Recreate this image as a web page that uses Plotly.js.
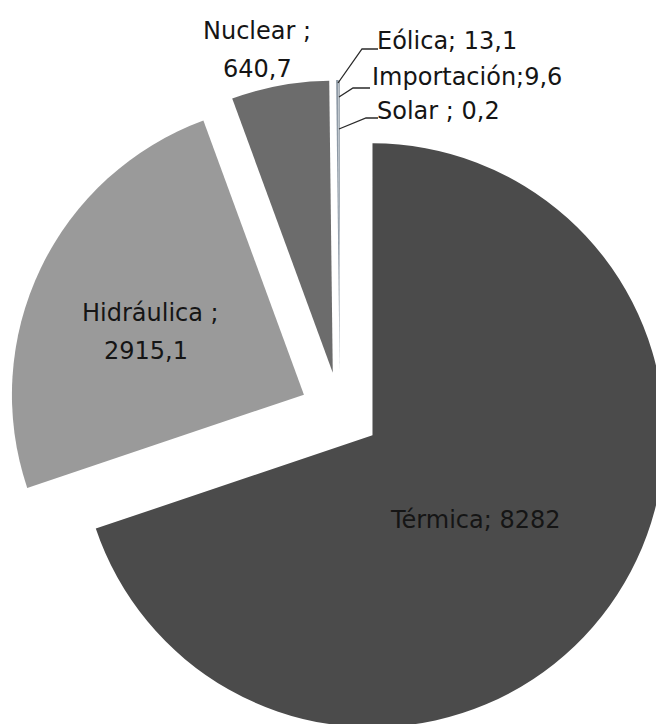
<!DOCTYPE html>
<html>
<head>
<meta charset="utf-8">
<script src="https://cdn.plot.ly/plotly-3.0.1.min.js"></script>
<style>
html, body { margin: 0; padding: 0; overflow: hidden; background: #ffffff; }
#chart { width: 680px; height: 750px; }
</style>
</head>
<body>
<div id="chart"></div>
<script>
// ---- data ----
const labels = ['Térmica', 'Hidráulica', 'Nuclear', 'Eólica', 'Importación', 'Solar'];
const values = [8282, 2915.1, 640.7, 13.1, 9.6, 0.2];
const separators = ['; ', ' ;\n', ' ;\n', '; ', ';', ' ; '];
const sliceColors = ['#4b4b4b', '#9a9a9a', '#6c6c6c', '#8e9aa6', '#9aa4ae', '#a8b0b8'];

// ---- layout helpers ----
const W = 680, H = 750;
const px = x => x / W;
const py = y => 1 - y / H;
const fmt = v => String(v).replace('.', ',');

// label line positions (pixel centres / left edges), one entry per text line
const linePos = [
  [{x: 475, y: 520, anchor: 'center'}],
  [{x: 150, y: 313, anchor: 'center'}, {x: 146, y: 351, anchor: 'center'}],
  [{x: 257, y: 31, anchor: 'center'}, {x: 257, y: 69, anchor: 'center'}],
  [{x: 375, y: 41, anchor: 'left'}],
  [{x: 370, y: 77, anchor: 'left'}],
  [{x: 375, y: 111, anchor: 'left'}]
];

const annotations = [];
labels.forEach((lab, i) => {
  const lines = (lab + separators[i] + fmt(values[i])).split('\n');
  lines.forEach((t, j) => {
    const p = linePos[i][j];
    annotations.push({
      xref: 'paper', yref: 'paper',
      x: px(p.x), y: py(p.y),
      xanchor: p.anchor, yanchor: 'middle',
      text: t, showarrow: false,
      font: {family: 'DejaVu Sans', size: 24, color: '#151515'}
    });
  });
});

// leader lines for the tiny slices
const leaders = [
  [[338, 83], [362, 49], [378, 49]],
  [[339, 97], [353, 88], [370, 88]],
  [[339, 129], [366, 118], [378, 118]]
];
const shapes = leaders.map(pts => ({
  type: 'path', xref: 'paper', yref: 'paper',
  path: 'M ' + pts.map(p => px(p[0]) + ',' + py(p[1])).join(' L '),
  line: {color: '#2a2a2a', width: 1.3}
}));

const trace = {
  type: 'pie',
  labels: labels,
  values: values,
  sort: false,
  direction: 'clockwise',
  rotation: 0,
  pull: labels.map(() => 0.137),
  marker: {colors: sliceColors, line: {width: 0}},
  textinfo: 'none',
  hoverinfo: 'label+value',
  showlegend: false,
  domain: {x: [px(8), px(672)], y: [py(744), py(80)]}
};

const layout = {
  width: W, height: H,
  margin: {l: 0, r: 0, t: 0, b: 0},
  paper_bgcolor: '#ffffff',
  showlegend: false,
  annotations: annotations,
  shapes: shapes
};

Plotly.newPlot('chart', [trace], layout, {displayModeBar: false, staticPlot: true});
</script>
</body>
</html>
